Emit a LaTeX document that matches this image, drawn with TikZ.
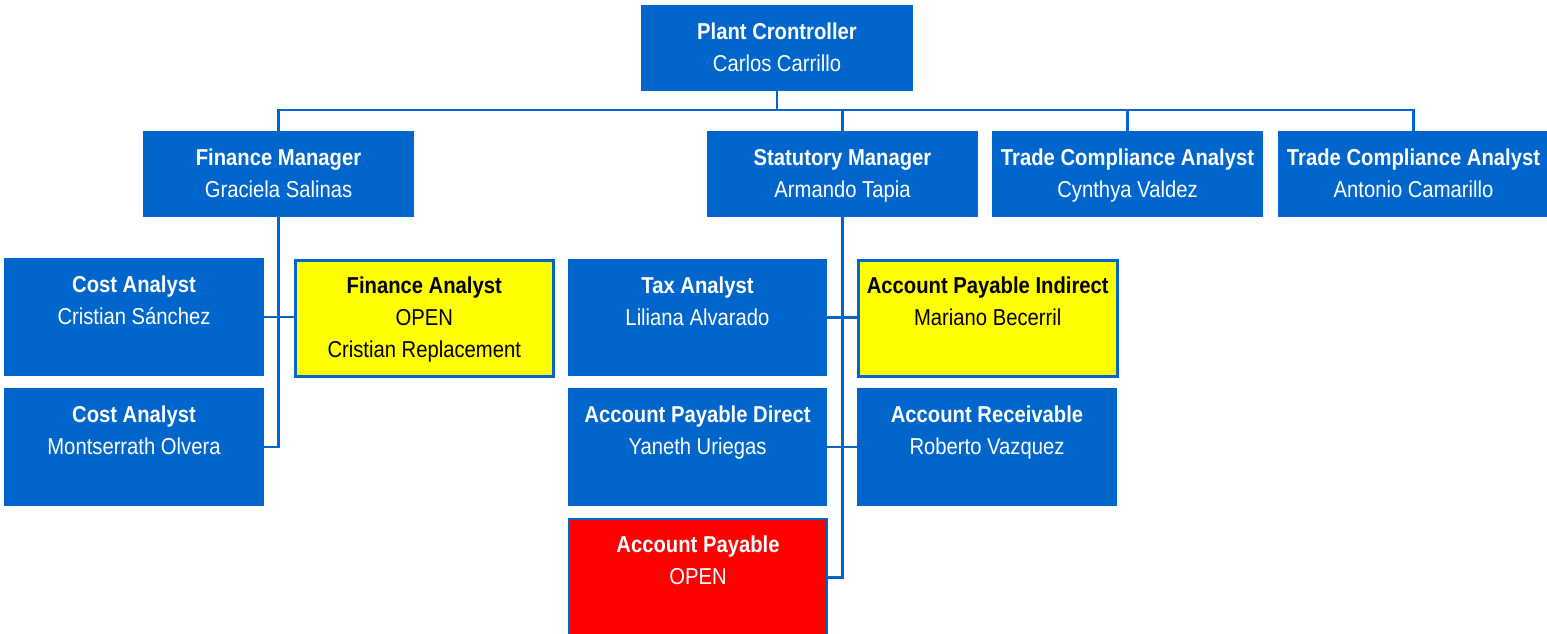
\documentclass[tikz,border=0pt]{standalone}
\usepackage{fontspec}
\setmainfont{Liberation Sans}[FakeStretch=0.88]
\definecolor{orgblue}{HTML}{0066CC}
\definecolor{openyellow}{HTML}{FFFF00}
\definecolor{openred}{HTML}{FF0000}
\tikzset{
  boxbase/.style={rectangle, anchor=north west, inner sep=0pt},
  bluebox/.style={boxbase, fill=orgblue, draw=orgblue, line width=1pt},
  yellowbox/.style={boxbase, fill=openyellow, draw=orgblue, line width=2.5pt},
  redbox/.style={boxbase, fill=openred, draw=orgblue, line width=2pt},
  boxtext/.style={anchor=north, inner sep=0pt, align=center,
    font=\fontsize{23}{32}\selectfont},
  conn/.style={draw=orgblue, line width=2.5pt, line cap=rect}
}
% \orgbox{name}{x}{y}{width}{height}{box style}{text colour}{text}
\newcommand{\orgbox}[8]{%
  \node[#6, minimum width=#4pt, minimum height=#5pt] (#1) at (#2,#3) {};
  \node[boxtext, text=#7] (#1-t) at ([yshift=-18pt]#1.north) {#8};
}
\begin{document}
\begin{tikzpicture}[x=1pt, y=-1pt]
\useasboundingbox (0,0) rectangle (1547,633);

% top level
\orgbox{pc}{641}{5}{271}{85}{bluebox}{white}{\textbf{Plant Crontroller}\\Carlos Carrillo}

% second level
\orgbox{fm}{143}{131}{270}{85}{bluebox}{white}{\textbf{Finance Manager}\\Graciela Salinas}
\orgbox{sm}{707}{131}{270}{85}{bluebox}{white}{\textbf{Statutory Manager}\\Armando Tapia}
\orgbox{tca}{992}{131}{270}{85}{bluebox}{white}{\textbf{Trade Compliance Analyst}\\Cynthya Valdez}
\orgbox{tcb}{1278}{131}{270}{85}{bluebox}{white}{\textbf{Trade Compliance Analyst}\\Antonio Camarillo}

% finance team
\orgbox{caa}{4}{258}{259}{117}{bluebox}{white}{\textbf{Cost Analyst}\\Cristian Sánchez}
\orgbox{fa}{294}{259}{258}{116}{yellowbox}{black}{\textbf{Finance Analyst}\\OPEN\\Cristian Replacement}
\orgbox{cab}{4}{388}{259}{117}{bluebox}{white}{\textbf{Cost Analyst}\\Montserrath Olvera}

% statutory team
\orgbox{tax}{568}{259}{258}{116}{bluebox}{white}{\textbf{Tax Analyst}\\Liliana Alvarado}
\orgbox{api}{857}{259}{259}{116}{yellowbox}{black}{\textbf{Account Payable Indirect}\\Mariano Becerril}
\orgbox{apd}{568}{388}{258}{117}{bluebox}{white}{\textbf{Account Payable Direct}\\Yaneth Uriegas}
\orgbox{ar}{857}{388}{259}{117}{bluebox}{white}{\textbf{Account Receivable}\\Roberto Vazquez}
\orgbox{ap}{568}{518}{258}{117}{redbox}{white}{\textbf{Account Payable}\\OPEN}

% connectors
\coordinate (bus) at (0,110);
\draw[conn] (pc.south) -- (pc.south |- bus);
\draw[conn] (fm.north) -- (fm.north |- bus) -- (tcb.north |- bus) -- (tcb.north);
\draw[conn] (sm.north) -- (sm.north |- bus);
\draw[conn] (tca.north) -- (tca.north |- bus);

\draw[conn] (fm.south) -- (fm.south |- cab.east) -- (cab.east);
\draw[conn] (caa.east) -- (caa.east -| fa.west);

\draw[conn] (sm.south) -- (sm.south |- ap.east) -- (ap.east);
\draw[conn] (tax.east) -- (tax.east -| api.west);
\draw[conn] (apd.east) -- (apd.east -| ar.west);
\end{tikzpicture}
\end{document}
